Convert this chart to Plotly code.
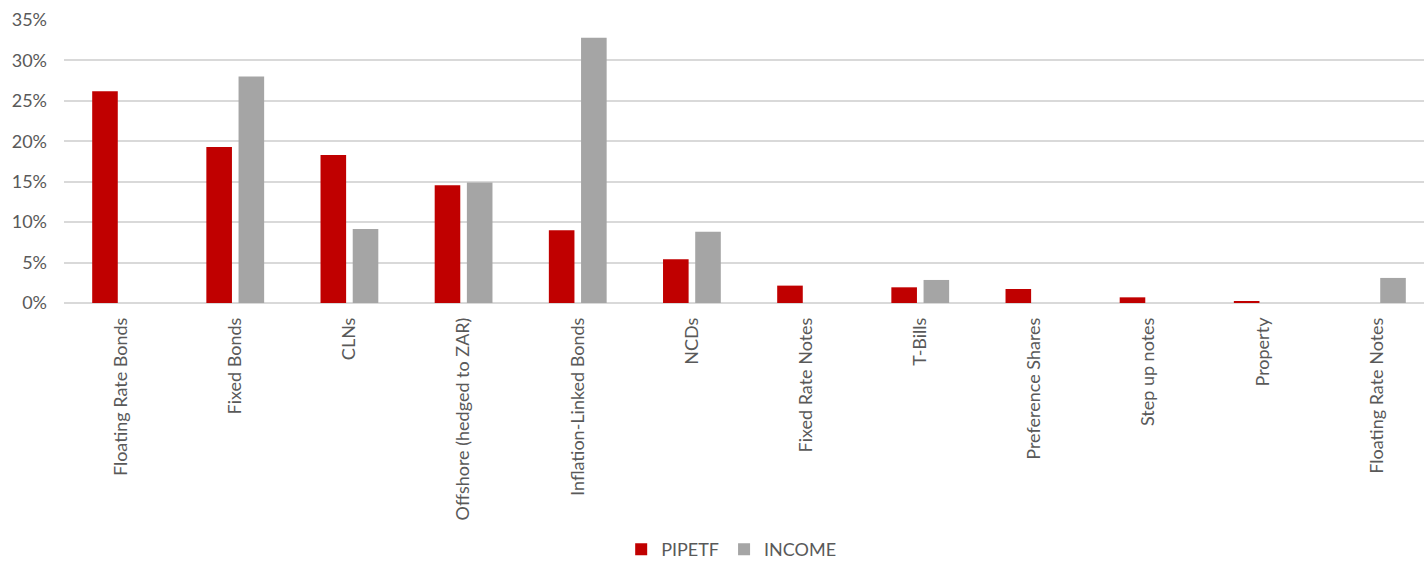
import plotly.graph_objects as go

categories = ["Floating Rate Bonds", "Fixed Bonds", "CLNs", "Offshore (hedged to ZAR)",
              "Inflation-Linked Bonds", "NCDs", "Fixed Rate Notes", "T-Bills",
              "Preference Shares", "Step up notes", "Property", "Floating Rate Notes"]
pipetf = [0.262, 0.193, 0.183, 0.1455, 0.090, 0.054, 0.0215, 0.0194, 0.0173, 0.007, 0.002, 0.0]
income = [0.0, 0.280, 0.0915, 0.149, 0.328, 0.088, 0.0, 0.0285, 0.0, 0.0, 0.0, 0.031]
y_ticks = [0, 0.05, 0.10, 0.15, 0.20, 0.25, 0.30, 0.35]

font_family = "Lato, Carlito, Calibri, 'Open Sans', sans-serif"
txt = "#595959"

fig = go.Figure()
fig.add_trace(go.Bar(name="PIPETF", x=categories, y=pipetf, marker_color="#C00000",
                     marker_line_width=0))
fig.add_trace(go.Bar(name="INCOME", x=categories, y=income, marker_color="#A5A5A5",
                     marker_line_width=0))

fig.update_layout(
    width=1436, height=568,
    margin=dict(l=64, r=2, t=20, b=265),
    paper_bgcolor="white", plot_bgcolor="white",
    barmode="group", bargap=0.436, bargroupgap=0.205,
    font=dict(family=font_family, size=18, color=txt),
    showlegend=True,
    legend=dict(orientation="h", x=0.487, xanchor="center", yref="container",
                y=0.0, yanchor="bottom", font=dict(size=18, color=txt),
                itemsizing="constant"),
)
fig.update_xaxes(tickangle=-90, showgrid=False, showline=False, ticks="",
                 ticklabelstandoff=10, tickfont=dict(size=18, color=txt))
fig.update_yaxes(range=[0, 0.35], tickvals=y_ticks, tickformat=".0%",
                 showgrid=True, gridcolor="#D9D9D9", gridwidth=1.5,
                 zeroline=True, zerolinecolor="#D9D9D9", zerolinewidth=1.5,
                 showline=False, ticks="", ticklabelstandoff=16,
                 tickfont=dict(size=18, color=txt))

fig.write_html("out.html", config={"displayModeBar": False},
               post_script="document.body.style.margin='0';document.body.style.overflow='hidden';")
